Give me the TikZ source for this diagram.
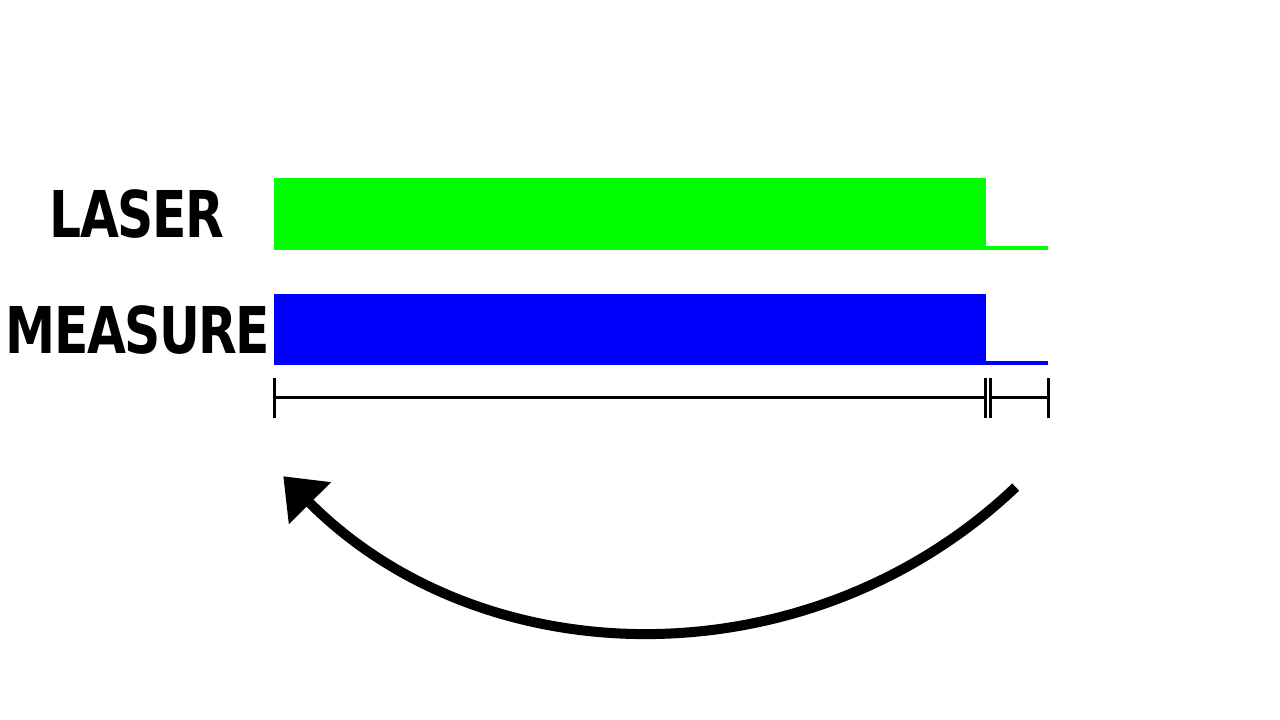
\documentclass[tikz,border=0pt]{standalone}
\usepackage{fontspec}
\newfontfamily\lblfont[LetterSpace=-3]{DejaVu Sans}
\usetikzlibrary{arrows.meta}
\definecolor{lasergreen}{RGB}{0,255,0}
\definecolor{measblue}{RGB}{0,0,255}
\tikzset{
  lbl/.style={inner sep=0pt, anchor=base, font=\lblfont\bfseries\fontsize{64.5}{70}\selectfont},
  scaleline/.style={line width=3pt, black},
}
\begin{document}
\begin{tikzpicture}[x=1pt,y=1pt]
\useasboundingbox (0,0) rectangle (1280,720);
% labels
\node[lbl] (laser) at (137,482) {\scalebox{0.78}[1]{LASER}};
\node[lbl] (measure) at (138,366) {\scalebox{0.78}[1]{MEASURE}};
% bars
\fill[lasergreen] (274,469.5) rectangle (986,541.5);
\fill[lasergreen] (985,469.5) rectangle (1048,473.5);
\fill[measblue] (274,354.5) rectangle (986,426);
\fill[measblue] (985,354.5) rectangle (1047.5,358.5);
% scale bar
\coordinate (s0) at (274,322);
\coordinate (s1) at (985,322);
\coordinate (s2) at (990.5,322);
\coordinate (s3) at (1048.5,322);
\draw[scaleline] (s0) -- (s1);
\draw[scaleline] (s2) -- (s3);
\foreach \c in {s0,s1,s2,s3}{
  \draw[scaleline] ([yshift=20pt]\c) -- ([yshift=-20pt]\c);
}
% return arrow
\coordinate (astart) at (1015.7,232.9);
\draw[line width=10pt, -{Triangle[length=38pt,width=57pt]}] (astart) arc[start angle=-46.5, end angle=-135.2, radius=524];
\end{tikzpicture}
\end{document}
